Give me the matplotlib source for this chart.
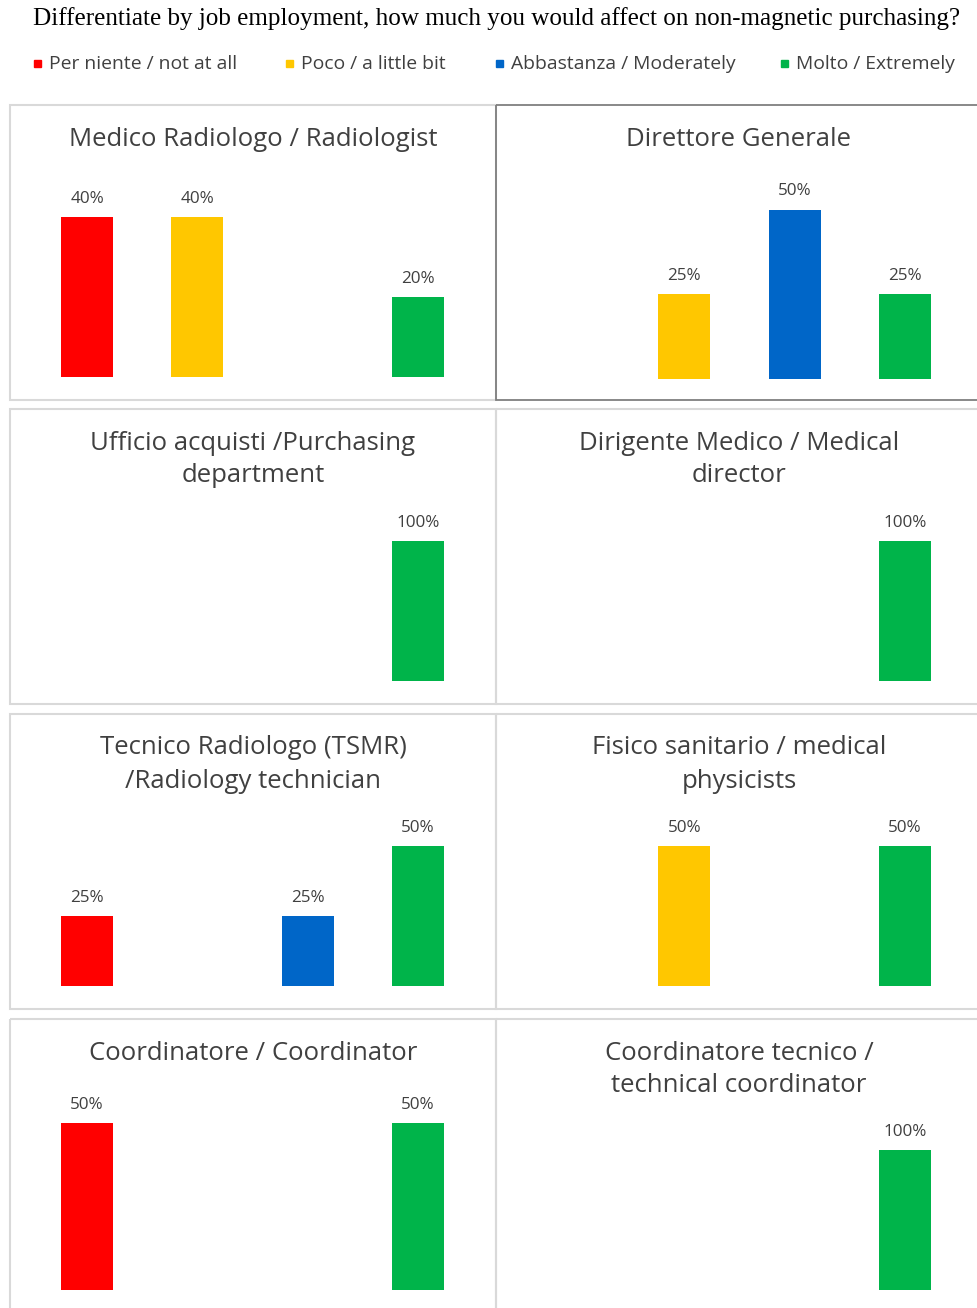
import matplotlib
matplotlib.use("Agg")
import matplotlib.pyplot as plt
from matplotlib.patches import Rectangle

# answer categories (legend)
categories = ["Per niente / not at all", "Poco / a little bit",
              "Abbastanza / Moderately", "Molto / Extremely"]
colors = ["#FF0000", "#FFC700", "#0066C8", "#00B44A"]

# job roles (panel titles)
roles = ["Medico Radiologo / Radiologist",
         "Direttore Generale",
         "Ufficio acquisti /Purchasing\ndepartment",
         "Dirigente Medico / Medical\ndirector",
         "Tecnico Radiologo (TSMR)\n/Radiology technician",
         "Fisico sanitario / medical\nphysicists",
         "Coordinatore / Coordinator",
         "Coordinatore tecnico /\ntechnical coordinator"]

# percentages per role, in category order
radiologist = [40, 40, 0, 20]
direttore = [0, 25, 50, 25]
acquisti = [0, 0, 0, 100]
dirigente = [0, 0, 0, 100]
tecnico = [25, 0, 25, 50]
fisico = [0, 50, 0, 50]
coordinatore = [50, 0, 0, 50]
coord_tecnico = [0, 0, 0, 100]
values = [radiologist, direttore, acquisti, dirigente,
          tecnico, fisico, coordinatore, coord_tecnico]

# per-panel y-axis maximum (each Excel chart auto-scaled on its own)
ymax = [50, 59, 143, 143, 71.4, 71.4, 60, 143]

W, H = 977, 1308
fig = plt.figure(figsize=(W / 100, H / 100), dpi=100)

# background axes in pixel coordinates
bg = fig.add_axes([0, 0, 1, 1])
bg.set_xlim(0, W)
bg.set_ylim(H, 0)
bg.axis("off")

sans = "Open Sans"
txt = "#404040"

bg.text(497, 19, "Differentiate by job employment, how much you would affect on non-magnetic purchasing?",
        family="Liberation Serif", fontsize=18.1, ha="center", va="center", color="black")

leg_x = [37, 289, 499, 784]
for lx, lab, c in zip(leg_x, categories, colors):
    bg.add_patch(Rectangle((lx - 3.5, 59.5), 7, 7, color=c))
    bg.text(lx + 12, 64, lab, family=sans, fontsize=13.9, ha="left", va="center", color=txt)

col_x = [(10, 496), (496, 982)]
row_y = [(105, 400), (409, 704), (714, 1009), (1019, 1314)]
baselines = [377, 379, 681, 681, 986, 986, 1290, 1290]

for i, (role, vals) in enumerate(zip(roles, values)):
    r, c = divmod(i, 2)
    x0, x1 = col_x[c]
    y0, y1 = row_y[r]
    edge = "#7F7F7F" if i == 1 else "#D9D9D9"
    bg.add_patch(Rectangle((x0, y0), x1 - x0, y1 - y0, fill=False,
                           edgecolor=edge, linewidth=1.3 if i == 1 else 1.5, zorder=1))
    lines = role.split("\n")
    for k, line in enumerate(lines):
        bg.text((x0 + x1) / 2, y0 + 34 + 33 * k, line, family=sans, fontsize=18.5,
                ha="center", va="center", color=txt)

    # bar axes: 4 slots of ~110 px, 200 px tall above the baseline
    ax_left = 32 if c == 0 else 519
    base = baselines[i]
    ax = fig.add_axes([ax_left / W, (H - base) / H, 441 / W, 200 / H])
    ax.set_xlim(-0.5, 3.5)
    ax.set_ylim(0, ymax[i])
    ax.axis("off")
    xs = range(len(categories))
    bars = ax.bar(xs, vals, width=0.47, color=colors)
    for b, v in zip(bars, vals):
        if v > 0:
            ax.annotate(f"{v}%", (b.get_x() + b.get_width() / 2, v),
                        xytext=(0, 13), textcoords="offset points",
                        ha="center", va="center", family=sans, fontsize=12.3,
                        color=txt, annotation_clip=False)

fig.savefig("out.png", dpi=100)
